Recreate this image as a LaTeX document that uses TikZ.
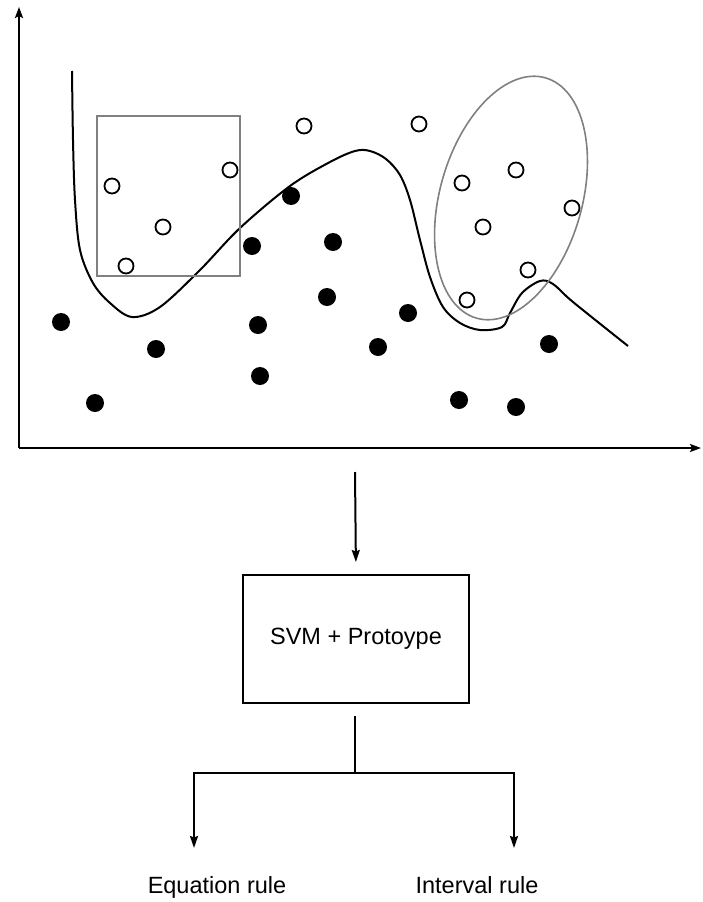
\documentclass[tikz,border=0pt]{standalone}
\usepackage{fontspec}
\setmainfont{Liberation Sans}
\usetikzlibrary{arrows.meta}
\begin{document}
\begin{tikzpicture}[x=1pt,y=-1pt,
  axis/.style={line width=2pt,-{Stealth[length=11pt,width=8pt,inset=2pt]}},
  flow/.style={line width=2pt,-{Stealth[length=12pt,width=8pt,inset=1.5pt]}},
  link/.style={line width=2pt},
  openpt/.style={circle,draw,line width=1.8pt,fill=white,minimum size=15pt,inner sep=0pt},
  fullpt/.style={circle,fill=black,minimum size=18pt,inner sep=0pt},
  region/.style={draw=black!50,line width=1.6pt},
  stage/.style={draw,line width=2pt,minimum width=226pt,minimum height=128pt,inner sep=0pt},
  caption/.style={font=\fontsize{23.5pt}{28pt}\selectfont,inner sep=0pt}
]
\useasboundingbox (0,0) rectangle (702,902);

% axes
\coordinate (origin) at (19,448);
\coordinate (ytop) at (19,7);
\coordinate (xend) at (701,448);
\draw[axis] (origin) -- (ytop);
\draw[axis] (origin) -- (xend);

% decision boundary
\draw[line width=2pt,line join=round] plot[smooth,tension=0.55] coordinates {
  (72,71) (73,140) (75,200) (80,250) (93,283) (110,303) (132,317)
  (160,307) (200,270) (240,228) (290,186) (330,162) (355,151) (370,151)
  (386,159) (400,175) (410,200) (420,240) (430,277) (443,307) (460,323) (480,330)
  (502,327) (510,313) (522,293) (540,281) (553,284) (573,302) (628,346)};

% prototype regions
\draw[region] (97,116) rectangle (240,276);
\draw[region,rotate around={-16:(511,198)}] (511,198) ellipse [x radius=71pt,y radius=125pt];

% open samples
\foreach \n/\px/\py in {o1/112/186,o2/230/170,o3/163/227,o4/126/266,o5/304/126,
  o6/419/124,o7/462/183,o8/516/170,o9/572/208,o10/483/227,o11/528/270,o12/467/300}
  \node[openpt] (\n) at (\px,\py) {};

% filled samples
\foreach \n/\px/\py in {f1/61/322,f2/156/349,f3/95/403,f4/291/196,f5/252/246,
  f6/333/242,f7/327/297,f8/258/325,f9/260/376,f10/408/313,f11/378/347,
  f12/549/344,f13/459/400,f14/516/407}
  \node[fullpt] (\n) at (\px,\py) {};

% pipeline
\coordinate (feed) at (355,472);
\node[stage,caption] (model) at (356,639) {SVM + Protoype};
\coordinate (stem) at (355,716);
\coordinate (split) at (355,773);
\coordinate (eqtip) at (194,848);
\coordinate (intip) at (514,848);
\node[caption,anchor=base] (eqrule) at (217,893) {Equation rule};
\node[caption,anchor=base] (inrule) at (477,893) {Interval rule};

\draw[flow,shorten >=12pt] (feed) -- (model.north);
\draw[link] (stem) -- (split);
\draw[flow] (split) -| (eqtip);
\draw[flow] (split) -| (intip);
\end{tikzpicture}
\end{document}
